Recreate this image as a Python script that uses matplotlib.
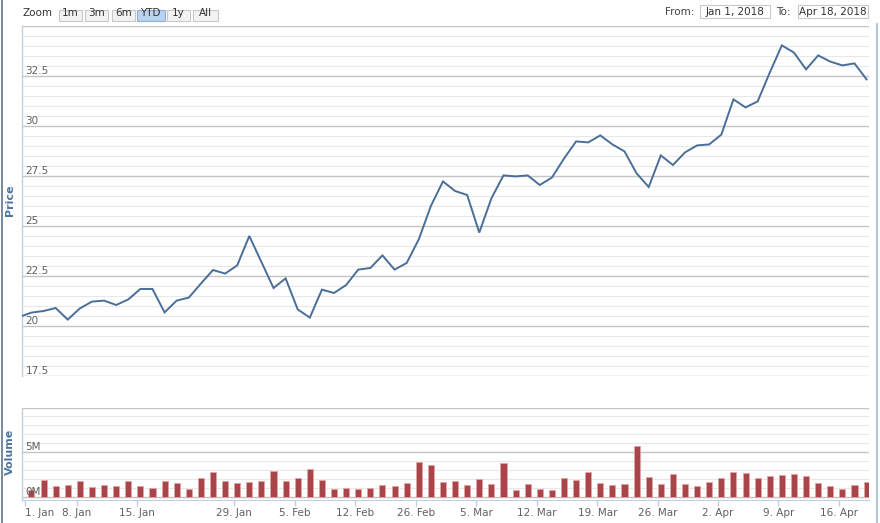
import numpy as np
import matplotlib.pyplot as plt
import matplotlib.transforms as mtransforms
from matplotlib.patches import Rectangle
from matplotlib.lines import Line2D

# ==========================================
# DATA
# ==========================================
# daily close, first value is the previous session (clipped at the left edge)
close = [20.45,
         20.67, 20.75, 20.90, 20.32, 20.88, 21.22, 21.27, 21.05, 21.33, 21.85,
         21.85, 20.68, 21.27, 21.42, 22.12, 22.80, 22.62, 23.03, 24.50, 23.20,
         21.90, 22.38, 20.83, 20.42, 21.82, 21.65, 22.05, 22.82, 22.90, 23.53,
         22.82, 23.15, 24.33, 26.00, 27.23, 26.75, 26.55, 24.67, 26.38, 27.53,
         27.48, 27.53, 27.05, 27.42, 28.37, 29.23, 29.18, 29.53, 29.08, 28.73,
         27.63, 26.95, 28.53, 28.05, 28.68, 29.03, 29.08, 29.57, 31.33, 30.93,
         31.23, 32.67, 34.03, 33.67, 32.83, 33.53, 33.22, 33.03, 33.13, 32.33]

# daily volume in millions
volume_m = [0.80, 1.93, 1.26, 1.37, 1.85, 1.15, 1.37, 1.26, 1.78, 1.26,
            1.04, 1.78, 1.56, 0.96, 2.15, 2.85, 1.78, 1.56, 1.67, 1.85,
            2.96, 1.78, 2.15, 3.15, 1.93, 0.96, 1.04, 0.96, 1.04, 1.37,
            1.26, 1.56, 3.96, 3.56, 1.67, 1.85, 1.37, 2.04, 1.44, 3.78,
            0.85, 1.44, 0.96, 0.85, 2.15, 1.93, 2.85, 1.56, 1.37, 1.44,
            5.67, 2.26, 1.44, 2.59, 1.44, 1.26, 1.67, 2.15, 2.85, 2.70,
            2.15, 2.37, 2.44, 2.56, 2.37, 1.56, 1.26, 0.96, 1.37, 1.67]

tick_labels = ['1. Jan', '8. Jan', '15. Jan', '29. Jan', '5. Feb', '12. Feb',
               '26. Feb', '5. Mar', '12. Mar', '19. Mar', '26. Mar', '2. Apr',
               '9. Apr', '16. Apr']
tick_pos = [-0.5, 3.75, 8.75, 16.7, 21.75, 26.75, 31.75, 36.75, 41.75,
            46.75, 51.75, 56.7, 61.7, 66.7]

price_ticks = [17.5, 20, 22.5, 25, 27.5, 30, 32.5]
vol_ticks = [0, 5]
zoom_buttons = ['1m', '3m', '6m', 'YTD', '1y', 'All']
selected_button = 'YTD'
date_from = 'Jan 1, 2018'
date_to = 'Apr 18, 2018'

# ==========================================
# STYLE
# ==========================================
W, H = 880, 523
LINE_C = '#4a6e98'
BAR_C = '#a8444a'
BAR_EDGE = '#e3a3a3'
MAJOR_GRID = '#c4c4c4'
MINOR_GRID = '#e8e8e8'
AXIS_C = '#c0d0e0'
TEXT_C = '#606060'
TITLE_C = '#4d759e'
FS = 7.5

plt.rcParams['font.family'] = ['DejaVu Sans']


def fx(x):
    return x / W


def fy(y):
    return 1 - y / H


fig = plt.figure(figsize=(W / 100, H / 100), dpi=100)

ax_p = fig.add_axes([fx(22), fy(376), (869 - 22) / W, 350 / H])
ax_v = fig.add_axes([fx(22), fy(500), (869 - 22) / W, 92.5 / H], sharex=ax_p)

# ---- price panel
days = np.arange(len(close)) - 1
ax_p.plot(days, close, color=LINE_C, lw=1.4, solid_joinstyle='miter', zorder=3)
ax_p.set_xlim(-0.78, 69.2)
ax_p.set_ylim(17.5, 35)
ax_p.set_yticks(np.arange(17.5, 35.01, 2.5))
ax_p.set_yticks(np.arange(17.5, 35.01, 0.5), minor=True)

# ---- volume panel
vdays = np.arange(len(volume_m))
ax_v.bar(vdays, volume_m, width=0.5, color=BAR_C, edgecolor=BAR_EDGE,
         linewidth=0.6, zorder=3)
ax_v.set_ylim(-0.3, 10)
ax_v.set_yticks([0, 5, 10])
ax_v.set_yticks(np.arange(0, 10.01, 1), minor=True)

for ax in (ax_p, ax_v):
    ax.grid(which='major', axis='y', color=MAJOR_GRID, lw=1.0, zorder=0)
    ax.grid(which='minor', axis='y', color=MINOR_GRID, lw=0.8, zorder=0)
    ax.tick_params(axis='y', which='both', left=False, labelleft=False)
    for s in ('top', 'right', 'bottom'):
        ax.spines[s].set_visible(False)
    ax.spines['left'].set_color(AXIS_C)
    ax.spines['left'].set_linewidth(1.0)
    ax.set_axisbelow(True)

ax_p.tick_params(axis='x', bottom=False, labelbottom=False)

ax_v.spines['bottom'].set_visible(True)
ax_v.spines['bottom'].set_color(AXIS_C)
ax_v.set_xticks(tick_pos)
ax_v.set_xticklabels(tick_labels)
ax_v.tick_params(axis='x', length=4, width=1, color=AXIS_C, pad=1.5,
                 labelsize=FS, labelcolor=TEXT_C)
ax_v.get_xticklabels()[0].set_horizontalalignment('left')

# y tick labels sit inside the plot, just above their grid line
tp = mtransforms.blended_transform_factory(ax_p.transAxes, ax_p.transData)
for v in price_ticks:
    ax_p.text(0.004, v, f'{v:g}', transform=tp, ha='left', va='bottom',
              fontsize=FS, color=TEXT_C, zorder=4)
tv = mtransforms.blended_transform_factory(ax_v.transAxes, ax_v.transData)
for v in vol_ticks:
    ax_v.text(0.004, v + 0.05, f'{v}M', transform=tv, ha='left', va='bottom',
              fontsize=FS, color=TEXT_C, zorder=4)

# axis titles
fig.text(fx(10), fy(200), 'Price', rotation=90, ha='center', va='center',
         fontsize=8, color=TITLE_C, fontweight='bold')
fig.text(fx(10), fy(452), 'Volume', rotation=90, ha='center', va='center',
         fontsize=8, color=TITLE_C, fontweight='bold')

# frame
fig.add_artist(Line2D([fx(1.5), fx(1.5)], [0, 1], color='#5a7590', lw=1.2))
fig.add_artist(Line2D([fx(876.5), fx(876.5)], [0, fy(24)], color='#a6b8cc', lw=1.2))

# ---- range selector
fig.text(fx(22), fy(13), 'Zoom', ha='left', va='center', fontsize=FS, color='#333333')
btn_x = [59, 85, 111.5, 136.5, 166.5, 192.5]
btn_w = [22.5, 23, 23.5, 28.5, 23.5, 25.5]
for lab, bx, bw in zip(zoom_buttons, btn_x, btn_w):
    sel = lab == selected_button
    fig.add_artist(Rectangle((fx(bx), fy(21)), bw / W, 11 / H,
                             facecolor='#bcd3ee' if sel else '#f2f2f2',
                             edgecolor='#8eaed8' if sel else '#c8c8c8', lw=0.8))
    fig.text(fx(bx + bw / 2), fy(13.5), lab, ha='center', va='center',
             fontsize=FS, color='#333333')

fig.text(fx(665), fy(12), 'From:', ha='left', va='center', fontsize=FS, color='#444444')
fig.add_artist(Rectangle((fx(699.5), fy(18)), 70.5 / W, 13 / H,
                         facecolor='white', edgecolor='#c8c8c8', lw=0.8))
fig.text(fx(735), fy(12), date_from, ha='center', va='center', fontsize=FS, color='#333333')
fig.text(fx(776.5), fy(12), 'To:', ha='left', va='center', fontsize=FS, color='#444444')
fig.add_artist(Rectangle((fx(797.5), fy(18)), 70.5 / W, 13 / H,
                         facecolor='white', edgecolor='#c8c8c8', lw=0.8))
fig.text(fx(833), fy(12), date_to, ha='center', va='center', fontsize=FS, color='#333333')

fig.savefig('out.png', dpi=100)
